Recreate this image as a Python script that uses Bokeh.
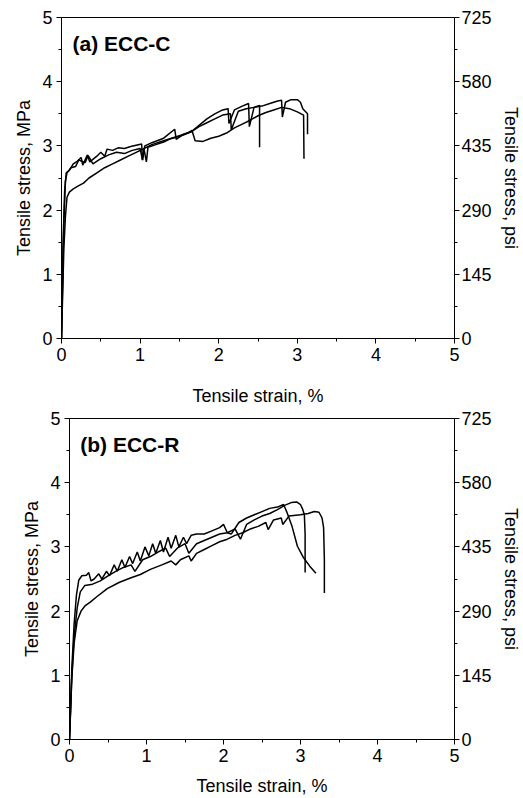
from bokeh.plotting import figure
from bokeh.models import Range1d, LinearAxis, FixedTicker, Label
from bokeh.embed import file_html
from bokeh.resources import INLINE

# ---------------- data ----------------
x_ticks = [0, 1, 2, 3, 4, 5]
mpa_ticks = [0, 1, 2, 3, 4, 5]
psi_ticks = [0, 145, 290, 435, 580, 725]

# (a) ECC-C
a1_strain = [0, 0.02, 0.04, 0.06, 0.10, 0.15, 0.20, 0.25, 0.27, 0.33, 0.36, 0.45, 0.50, 0.55, 0.58, 0.65, 0.72, 0.80,
             0.88, 0.95, 1.02, 1.03, 1.06, 1.15, 1.30, 1.44, 1.46, 1.55, 1.65, 1.75, 1.85, 1.95, 2.05, 2.12, 2.13,
             2.20, 2.30, 2.38, 2.39, 2.45, 2.52, 2.52]
a1_stress = [0, 1.5, 2.3, 2.58, 2.62, 2.72, 2.76, 2.82, 2.7, 2.86, 2.75, 2.84, 2.9, 2.84, 2.95, 2.93, 2.97, 2.96,
             2.99, 3.01, 3.03, 2.78, 3.0, 3.05, 3.12, 3.26, 3.1, 3.18, 3.22, 3.32, 3.42, 3.5, 3.56, 3.58, 3.35,
             3.56, 3.62, 3.66, 3.3, 3.6, 3.63, 2.98]

a2_strain = [0, 0.03, 0.05, 0.07, 0.12, 0.18, 0.22, 0.30, 0.34, 0.40, 0.50, 0.60, 0.70, 0.80, 0.90, 1.00, 1.03, 1.05,
             1.08, 1.10, 1.20, 1.30, 1.40, 1.50, 1.60, 1.66, 1.70, 1.80, 1.90, 2.00, 2.10, 2.20, 2.30, 2.40, 2.50,
             2.60, 2.70, 2.80, 2.90, 3.00, 3.08, 3.085]
a2_stress = [0, 1.8, 2.45, 2.58, 2.66, 2.68, 2.78, 2.74, 2.85, 2.72, 2.8, 2.86, 2.9, 2.88, 2.93, 2.96, 2.78, 2.95,
             2.75, 2.98, 3.02, 3.06, 3.12, 3.16, 3.2, 3.24, 3.08, 3.07, 3.12, 3.15, 3.2, 3.28, 3.34, 3.4, 3.47,
             3.52, 3.56, 3.6, 3.58, 3.53, 3.48, 2.8]

a3_strain = [0, 0.03, 0.05, 0.07, 0.10, 0.15, 0.22, 0.28, 0.35, 0.45, 0.55, 0.65, 0.75, 0.85, 0.95, 1.05, 1.15, 1.25,
             1.35, 1.45, 1.55, 1.65, 1.75, 1.85, 1.95, 2.05, 2.15, 2.16, 2.25, 2.35, 2.45, 2.55, 2.65, 2.75, 2.80,
             2.81, 2.85, 2.92, 3.00, 3.04, 3.07, 3.13, 3.13]
a3_stress = [0, 1.4, 1.9, 2.2, 2.28, 2.33, 2.38, 2.42, 2.5, 2.58, 2.66, 2.72, 2.78, 2.84, 2.9, 2.96, 3.02, 3.06,
             3.1, 3.13, 3.17, 3.22, 3.3, 3.36, 3.42, 3.48, 3.5, 3.25, 3.54, 3.58, 3.6, 3.62, 3.66, 3.7, 3.71,
             3.45, 3.68, 3.72, 3.72, 3.68, 3.58, 3.5, 3.18]

# (b) ECC-R
b1_strain = [0, 0.03, 0.06, 0.09, 0.12, 0.16, 0.22, 0.25, 0.28, 0.32, 0.38, 0.42, 0.48, 0.52, 0.58, 0.62, 0.68, 0.72,
             0.78, 0.82, 0.88, 0.92, 0.98, 1.03, 1.08, 1.12, 1.18, 1.22, 1.28, 1.32, 1.38, 1.42, 1.48, 1.52, 1.58,
             1.65, 1.75, 1.85, 1.95, 2.00, 2.05, 2.10, 2.20, 2.30, 2.40, 2.50, 2.60, 2.70, 2.78, 2.82, 2.89, 2.96,
             3.04, 3.12, 3.20]
b1_stress = [0, 1.1, 1.8, 2.25, 2.48, 2.55, 2.56, 2.6, 2.47, 2.5, 2.58, 2.5, 2.62, 2.55, 2.72, 2.62, 2.8, 2.68,
             2.85, 2.74, 2.92, 2.78, 3.0, 2.86, 3.05, 2.9, 3.1, 2.92, 3.15, 2.98, 3.18, 3.0, 3.15, 3.05, 3.18,
             3.2, 3.2, 3.25, 3.3, 3.35, 3.22, 3.2, 3.38, 3.45, 3.5, 3.55, 3.6, 3.62, 3.66, 3.55, 3.32, 3.01,
             2.83, 2.7, 2.59]

b2_strain = [0, 0.03, 0.06, 0.10, 0.14, 0.20, 0.30, 0.40, 0.50, 0.60, 0.70, 0.80, 0.85, 0.95, 1.05, 1.15, 1.25, 1.30,
             1.40, 1.50, 1.55, 1.65, 1.75, 1.85, 1.95, 2.05, 2.15, 2.22, 2.30, 2.40, 2.50, 2.60, 2.70, 2.80, 2.88,
             2.95, 3.00, 3.03, 3.05, 3.06, 3.06]
b2_stress = [0, 1.0, 1.6, 2.05, 2.3, 2.4, 2.42, 2.47, 2.55, 2.62, 2.68, 2.72, 2.62, 2.8, 2.85, 2.92, 2.98, 2.85,
             2.98, 3.05, 2.9, 3.05, 3.1, 3.15, 3.2, 3.22, 3.28, 3.12, 3.35, 3.42, 3.48, 3.52, 3.58, 3.65, 3.69,
             3.7, 3.66, 3.58, 3.5, 3.2, 2.6]

b3_strain = [0, 0.03, 0.06, 0.10, 0.15, 0.20, 0.27, 0.35, 0.49, 0.65, 0.80, 0.92, 1.05, 1.20, 1.32, 1.38, 1.44, 1.55,
             1.58, 1.65, 1.75, 1.85, 1.95, 2.05, 2.15, 2.25, 2.35, 2.45, 2.55, 2.58, 2.65, 2.75, 2.77, 2.85, 3.00,
             3.10, 3.18, 3.24, 3.28, 3.30, 3.31, 3.31]
b3_stress = [0, 0.95, 1.5, 1.85, 2.0, 2.08, 2.14, 2.22, 2.35, 2.45, 2.52, 2.57, 2.65, 2.72, 2.78, 2.72, 2.8, 2.86,
             2.78, 2.9, 2.96, 3.02, 3.08, 3.12, 3.18, 3.22, 3.28, 3.32, 3.38, 3.27, 3.42, 3.45, 3.35, 3.48, 3.5,
             3.52, 3.55, 3.54, 3.45, 3.3, 2.8, 2.28]

FONT = "Liberation Sans"


def make_panel(title, curves, height, left, right, top, bottom, label_xy, xtitle_standoff):
    p = figure(width=523, height=height, output_backend="svg", toolbar_location=None,
               x_range=Range1d(0, 5), y_range=Range1d(0, 5),
               min_border_left=left, min_border_right=right,
               min_border_top=top, min_border_bottom=bottom)
    p.xgrid.visible = False
    p.ygrid.visible = False
    p.outline_line_color = "black"
    p.outline_line_width = 1
    p.background_fill_color = "white"
    p.border_fill_color = "white"

    p.extra_y_ranges = {"psi": Range1d(0, 725)}
    right_ax = LinearAxis(y_range_name="psi")
    p.add_layout(right_ax, "right")

    for ax in [p.xaxis[0], p.yaxis[0], right_ax]:
        ax.axis_line_color = "black"
        ax.major_tick_line_color = "black"
        ax.minor_tick_line_color = "black"
        ax.major_tick_out = 5
        ax.major_tick_in = 0
        ax.minor_tick_out = 3
        ax.minor_tick_in = 0
        ax.major_label_text_font = FONT
        ax.major_label_text_font_size = "18px"
        ax.major_label_text_color = "black"
        ax.axis_label_text_font = FONT
        ax.axis_label_text_font_size = "18px"
        ax.axis_label_text_font_style = "normal"
        ax.axis_label_text_color = "black"

    p.xaxis[0].ticker = FixedTicker(ticks=x_ticks, minor_ticks=[t + 0.5 for t in x_ticks[:-1]])
    p.yaxis[0].ticker = FixedTicker(ticks=mpa_ticks, minor_ticks=[t + 0.5 for t in mpa_ticks[:-1]])
    right_ax.ticker = FixedTicker(ticks=psi_ticks, minor_ticks=[t + 72.5 for t in psi_ticks[:-1]])

    p.xaxis[0].axis_label = "Tensile strain, %"
    p.xaxis[0].major_label_standoff = 4
    p.xaxis[0].axis_label_standoff = xtitle_standoff
    p.yaxis[0].axis_label = "Tensile stress, MPa"
    p.yaxis[0].major_label_standoff = 4
    p.yaxis[0].axis_label_standoff = 5
    right_ax.axis_label = "Tensile stress, psi"
    right_ax.major_label_standoff = 2
    right_ax.axis_label_standoff = 6

    for xs, ys in curves:
        p.line(xs, ys, line_color="black", line_width=1.5)

    p.add_layout(Label(x=label_xy[0], y=label_xy[1], text=title, text_font=FONT, text_font_size="21px",
                       text_font_style="bold", text_color="black", text_baseline="middle"))
    return p


top = make_panel("(a) ECC-C", [(a1_strain, a1_stress), (a2_strain, a2_stress), (a3_strain, a3_stress)],
                 410, 61, 68, 17, 72, (0.14, 4.6), 22)
bot = make_panel("(b) ECC-R", [(b1_strain, b1_stress), (b2_strain, b2_stress), (b3_strain, b3_stress)],
                 388, 69, 68, 8, 59, (0.14, 4.6), 11)

open("out.html", "w").write(file_html([top, bot], INLINE))
